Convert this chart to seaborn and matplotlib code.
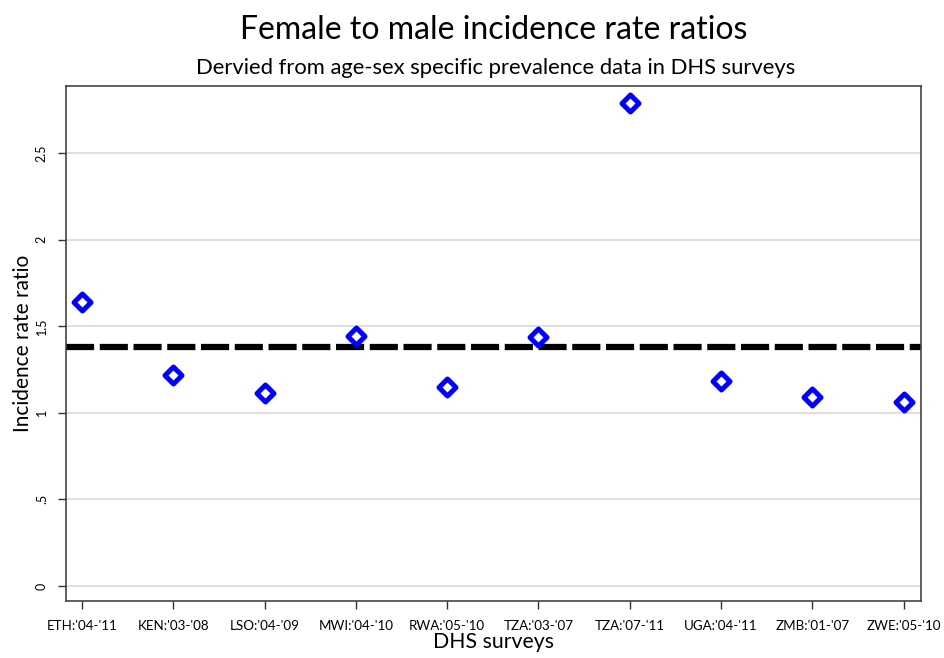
import matplotlib
matplotlib.use("Agg")
import matplotlib.pyplot as plt
import seaborn as sns
import pandas as pd

surveys = ["ETH:'04-'11", "KEN:'03-'08", "LSO:'04-'09", "MWI:'04-'10", "RWA:'05-'10",
           "TZA:'03-'07", "TZA:'07-'11", "UGA:'04-'11", "ZMB:'01-'07", "ZWE:'05-'10"]
irr = [1.64, 1.218, 1.114, 1.443, 1.149, 1.438, 2.789, 1.184, 1.091, 1.062]
pooled_irr = 1.38
y_ticks = [0, 0.5, 1, 1.5, 2, 2.5]
y_tick_labels = ["0", ".5", "1", "1.5", "2", "2.5"]

df = pd.DataFrame({"survey": surveys, "irr": irr})
df["pos"] = range(len(surveys))

sns.set_style("white")
plt.rcParams["font.family"] = ["Lato", "DejaVu Sans"]
plt.rcParams["text.color"] = "black"
plt.rcParams["axes.labelcolor"] = "black"
plt.rcParams["xtick.color"] = "black"
plt.rcParams["ytick.color"] = "black"

fig = plt.figure(figsize=(9.45, 6.58), dpi=100)
ax = fig.add_axes([0.0698, 0.0866, 0.9048, 0.7827])

for t in y_ticks:
    ax.axhline(t, color="#d9d9d9", lw=1.2, zorder=0)

ax.axhline(pooled_irr, color="black", lw=4.5, linestyle=(0, (4.5, 0.9)), zorder=2)

sns.scatterplot(data=df, x="pos", y="irr", ax=ax, marker="D", s=75,
                facecolor="white", edgecolor="#0000ff", linewidth=3.6, zorder=3,
                legend=False)

ax.set_xlim(-0.175, 9.19)
ax.set_ylim(-0.087, 2.887)
ax.set_xticks(df["pos"])
ax.set_xticklabels(surveys, fontsize=9.6)
ax.set_yticks(y_ticks)
ax.set_yticklabels(y_tick_labels, fontsize=9, rotation=90, va="center")
ax.tick_params(axis="x", direction="out", length=6, width=1, color="#333333",
               bottom=True, pad=8)
ax.tick_params(axis="y", direction="out", length=6, width=1, color="#333333",
               left=True, pad=7)
for sp in ax.spines.values():
    sp.set_color("#444444")
    sp.set_linewidth(1.2)

ax.set_xlabel("DHS surveys", fontsize=15.3, labelpad=0)
ax.set_ylabel("Incidence rate ratio", fontsize=15, labelpad=2)

fig.text(0.522, 0.954, "Female to male incidence rate ratios", ha="center", va="center",
         fontsize=23)
fig.text(0.524, 0.897, "Dervied from age-sex specific prevalence data in DHS surveys",
         ha="center", va="center", fontsize=15.8)

fig.savefig("out.png", dpi=100)
